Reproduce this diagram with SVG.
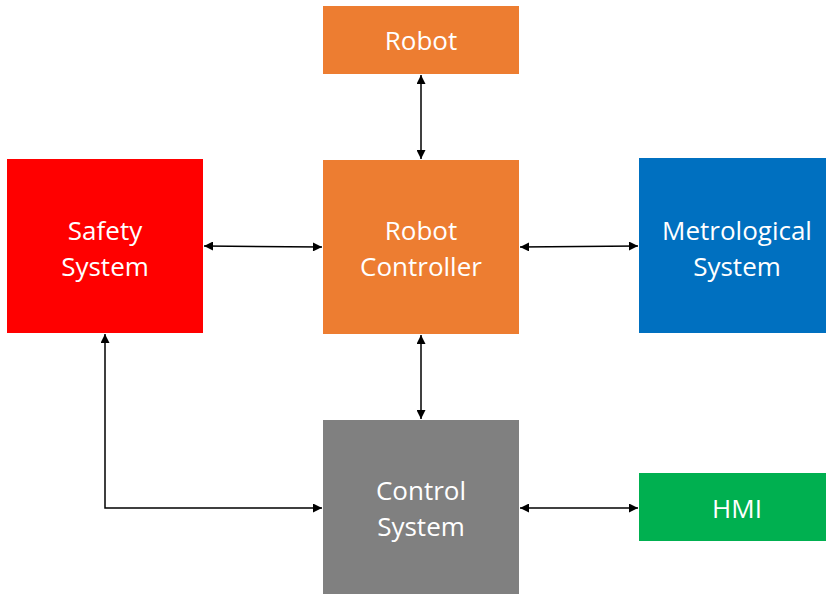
<svg xmlns="http://www.w3.org/2000/svg" width="826" height="594" viewBox="0 0 826 594">
  <style>
    .lbl { font-family: "Open Sans", "Liberation Sans", sans-serif; font-size: 26px; fill: #ffffff; text-anchor: middle; }
    .wire { fill: none; stroke: #000000; stroke-width: 1.5; }
  </style>
  <defs>
    <marker id="head" viewBox="0 0 10 10" refX="10" refY="5" markerWidth="10" markerHeight="9" orient="auto-start-reverse" markerUnits="userSpaceOnUse">
      <path d="M0,0 L10,5 L0,10 z" fill="#000000"/>
    </marker>
  </defs>
  <rect width="826" height="594" fill="#ffffff"/>

  <g id="robot">
    <rect x="323" y="6" width="196" height="68" fill="#ED7D31"/>
    <text class="lbl" x="421" y="50">Robot</text>
  </g>
  <g id="robot-controller">
    <rect x="323" y="160" width="196" height="174" fill="#ED7D31"/>
    <text class="lbl" x="421" y="240">Robot</text>
    <text class="lbl" x="421" y="276">Controller</text>
  </g>
  <g id="safety-system">
    <rect x="7" y="159" width="196" height="174" fill="#FF0000"/>
    <text class="lbl" x="105" y="240">Safety</text>
    <text class="lbl" x="105" y="276">System</text>
  </g>
  <g id="metrological-system">
    <rect x="639" y="158" width="187" height="175" fill="#0070C0"/>
    <text class="lbl" x="737" y="240">Metrological</text>
    <text class="lbl" x="737" y="276">System</text>
  </g>
  <g id="control-system">
    <rect x="323" y="420" width="196" height="174" fill="#808080"/>
    <text class="lbl" x="421" y="500">Control</text>
    <text class="lbl" x="421" y="536">System</text>
  </g>
  <g id="hmi">
    <rect x="639" y="473" width="187" height="68" fill="#00B050"/>
    <text class="lbl" x="737" y="518">HMI</text>
  </g>

  <g id="connectors">
    <line class="wire" x1="421" y1="75" x2="421" y2="159" marker-start="url(#head)" marker-end="url(#head)"/>
    <line class="wire" x1="204" y1="246" x2="322" y2="247" marker-start="url(#head)" marker-end="url(#head)"/>
    <line class="wire" x1="520" y1="247" x2="638" y2="246" marker-start="url(#head)" marker-end="url(#head)"/>
    <line class="wire" x1="421" y1="335" x2="421" y2="419" marker-start="url(#head)" marker-end="url(#head)"/>
    <polyline class="wire" points="105,334 105,508 322,508" marker-start="url(#head)" marker-end="url(#head)"/>
    <line class="wire" x1="520" y1="508" x2="638" y2="508" marker-start="url(#head)" marker-end="url(#head)"/>
  </g>
</svg>
